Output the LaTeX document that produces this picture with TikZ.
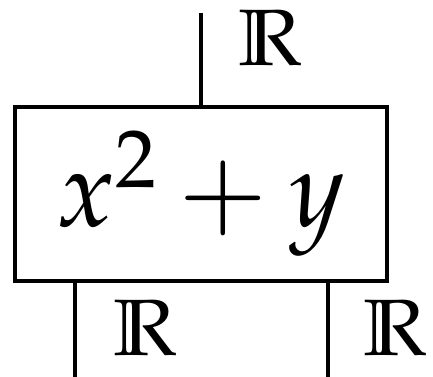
\documentclass[tikz,border=0pt]{standalone}
\usepackage{mathpazo}
\usepackage{amssymb}
\begin{document}
\begin{tikzpicture}[x=1pt,y=-1pt,
  wire/.style={line width=3.6pt},
  fbox/.style={draw,line width=3.6pt,minimum width=372pt,minimum height=174pt,inner sep=0pt,
    font=\fontsize{108}{120}\selectfont},
  lbl/.style={inner sep=0pt,font=\fontsize{80}{96}\selectfont}]
\useasboundingbox (0,0) rectangle (433,376);
\node[fbox] (f) at (201,194) {$x^2+y$};
\coordinate (t) at (201,13);
\coordinate (b1) at (75,380);
\coordinate (b2) at (328,380);
\draw[wire] (t) -- (f.north);
\draw[wire] (f.south -| b1) -- (b1);
\draw[wire] (f.south -| b2) -- (b2);
\node[lbl] (lt) at (271,38) {$\mathbb{R}$};
\node[lbl] (l1) at (146,328) {$\mathbb{R}$};
\node[lbl] (l2) at (396,328) {$\mathbb{R}$};
\end{tikzpicture}
\end{document}
